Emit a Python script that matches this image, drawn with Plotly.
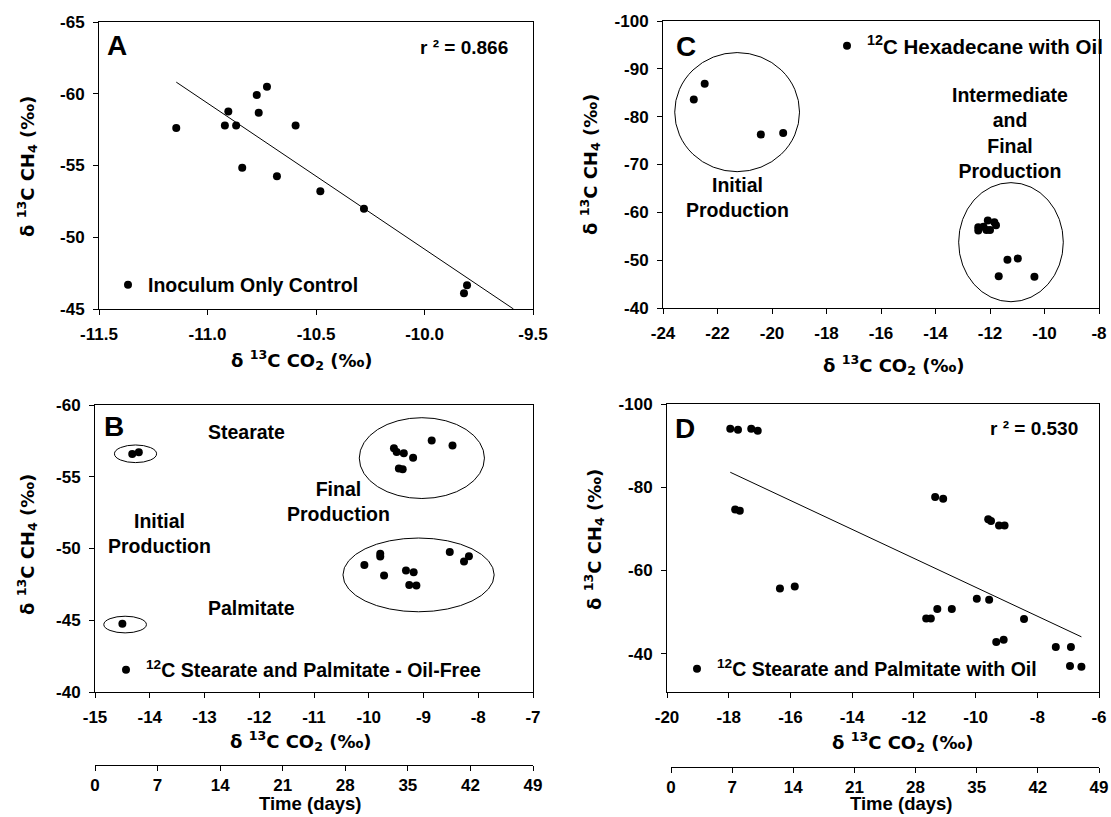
import numpy as np
import plotly.graph_objects as go

W, H = 1111, 817

# ---------------- data ----------------
# Panel A: Inoculum only control
a_co2 = [-11.144, -10.904, -10.920, -10.868, -10.773, -10.726, -10.764, -10.594,
         -10.840, -10.680, -10.480, -10.279, -9.804, -9.818]
a_ch4 = [-57.61, -58.77, -57.78, -57.78, -59.91, -60.49, -58.68, -57.78,
         -54.85, -54.25, -53.20, -51.99, -46.65, -46.09]

# Panel B: 12C stearate and palmitate - oil free
b_co2 = [-14.32, -14.20, -14.50,
         -9.54, -9.49, -9.36, -9.19, -9.45, -9.38, -8.85, -8.47,
         -10.08, -9.79, -9.79, -9.72, -9.32, -9.18, -9.26, -9.13, -8.52, -8.26, -8.17]
b_ch4 = [-56.59, -56.71, -44.75,
         -56.99, -56.73, -56.64, -56.32, -55.57, -55.52, -57.52, -57.17,
         -48.85, -49.64, -49.45, -48.11, -48.46, -48.34, -47.46, -47.42, -49.76, -49.09, -49.46]

# Panel C: 12C hexadecane with oil
c_co2 = [-22.87, -22.47, -20.41, -19.59,
         -12.43, -12.43, -12.08, -12.13, -12.00, -11.84, -11.78, -12.24,
         -11.36, -10.98, -11.68, -10.37]
c_ch4 = [-83.59, -86.86, -76.29, -76.57,
         -56.88, -56.19, -58.28, -56.33, -56.33, -57.93, -57.30, -57.00,
         -50.07, -50.35, -46.66, -46.52]

# Panel D: 12C stearate and palmitate with oil
d_co2 = [-17.95, -17.70, -17.27, -17.06, -17.79, -17.64, -16.34, -15.86,
         -11.31, -11.05, -9.59, -9.50, -9.24, -9.06, -9.96, -9.56,
         -11.24, -10.77, -11.60, -11.45, -8.43, -9.33, -9.09, -7.40, -6.91, -6.94, -6.57]
d_ch4 = [-94.07, -93.83, -94.07, -93.59, -74.68, -74.36, -55.69, -56.17,
         -77.64, -77.24, -72.28, -71.88, -70.83, -70.83, -53.21, -52.96,
         -50.72, -50.72, -48.48, -48.48, -48.32, -42.79, -43.35, -41.59, -41.59, -37.02, -36.86]

# Group ellipses (center x, center y, radius x, radius y) in data units
b_ellipses = [(-14.26, -56.60, 0.385, 0.614),
              (-14.45, -44.70, 0.389, 0.580),
              (-9.03, -56.30, 1.143, 2.816),
              (-9.09, -48.16, 1.381, 2.570)]
c_ellipses = [(-21.28, -80.95, 2.29, 12.45),
              (-11.23, -53.76, 1.92, 12.45)]

# tick labels
a_xticks = [-11.5, -11.0, -10.5, -10.0, -9.5]
a_xtext = ["-11.5", "-11.0", "-10.5", "-10.0", "-9.5"]
a_yticks = [-65, -60, -55, -50, -45]
b_xticks = [-15, -14, -13, -12, -11, -10, -9, -8, -7]
b_yticks = [-60, -55, -50, -45, -40]
c_xticks = [-24, -22, -20, -18, -16, -14, -12, -10, -8]
c_yticks = [-100, -90, -80, -70, -60, -50, -40]
d_xticks = [-20, -18, -16, -14, -12, -10, -8, -6]
d_yticks = [-100, -80, -60, -40]
day_ticks = [0, 7, 14, 21, 28, 35, 42, 49]

r2_a = "r ² = 0.866"
r2_d = "r ² = 0.530"

# ---------------- layout helpers ----------------
FAM = "Liberation Sans, Arial"
TICKFONT = dict(family=FAM, size=17, color="black", weight="bold")
LBLFONT = dict(family=FAM, size=19.5, color="black", weight=700)
TITLEFONT = dict(family="DejaVu Sans", size=18, color="black", weight=700)


def xd(p0, p1):
    return [p0 / W, p1 / W]


def yd(top, bottom):
    return [1 - bottom / H, 1 - top / H]


def lbl(v):
    return ["<b>%s</b>" % ("%g" % t) for t in v]


def axis_common():
    return dict(showline=True, mirror=True, linecolor="black", linewidth=1,
                ticks="outside", ticklen=5, tickwidth=1, tickcolor="black",
                showgrid=False, zeroline=False, tickfont=TICKFONT,
                ticklabelstandoff=5)


fig = go.Figure()
marker = dict(color="black", size=8)

panels = [
    ("x", "y", a_co2, a_ch4, "Inoculum Only Control", "legend"),
    ("x2", "y2", c_co2, c_ch4, "<sup>12</sup>C Hexadecane with Oil", "legend2"),
    ("x3", "y3", b_co2, b_ch4, "<sup>12</sup>C Stearate and Palmitate - Oil-Free", "legend3"),
    ("x4", "y4", d_co2, d_ch4, "<sup>12</sup>C Stearate and Palmitate with Oil", "legend4"),
]
for xa, ya, xs, ys, name, leg in panels:
    fig.add_trace(go.Scatter(x=xs, y=ys, mode="markers", marker=marker, name=name,
                             xaxis=xa, yaxis=ya, legend=leg, showlegend=True))

# regression lines (least squares fit of each panel's points)
ka, ba = np.polyfit(a_co2, a_ch4, 1)
a_line_x = np.array([min(a_co2), (a_yticks[-1] - ba) / ka])  # runs down to the bottom axis
fig.add_trace(go.Scatter(x=a_line_x, y=ka * a_line_x + ba, mode="lines",
                         line=dict(color="black", width=1), xaxis="x", yaxis="y",
                         showlegend=False, hoverinfo="skip"))
kd, bd = np.polyfit(d_co2, d_ch4, 1)
d_line_x = np.array([min(d_co2), max(d_co2)])
fig.add_trace(go.Scatter(x=d_line_x, y=kd * d_line_x + bd, mode="lines",
                         line=dict(color="black", width=1), xaxis="x4", yaxis="y4",
                         showlegend=False, hoverinfo="skip"))

# invisible traces hosting the time axes
fig.add_trace(go.Scatter(x=day_ticks, y=[None] * len(day_ticks), xaxis="x5", yaxis="y3",
                         mode="markers", showlegend=False, hoverinfo="skip"))
fig.add_trace(go.Scatter(x=day_ticks, y=[None] * len(day_ticks), xaxis="x6", yaxis="y4",
                         mode="markers", showlegend=False, hoverinfo="skip"))

time_axis = dict(anchor="free", range=[0, 49], showline=True, linecolor="black", linewidth=1,
                 ticks="outside", ticklen=5, tickcolor="black", showgrid=False, zeroline=False,
                 tickfont=TICKFONT, tickvals=day_ticks, ticktext=lbl(day_ticks),
                 ticklabelstandoff=0)

layout = dict(
    width=W, height=H, margin=dict(l=0, r=0, t=0, b=0, autoexpand=False),
    paper_bgcolor="white", plot_bgcolor="rgba(0,0,0,0)",
    xaxis=dict(axis_common(), domain=xd(99, 533), anchor="y", range=[-11.5, -9.5],
               tickvals=a_xticks, ticktext=["<b>%s</b>" % s for s in a_xtext]),
    yaxis=dict(axis_common(), domain=yd(22, 309), anchor="x", range=[-45, -65],
               tickvals=a_yticks, ticktext=lbl(a_yticks)),
    xaxis2=dict(axis_common(), domain=xd(663, 1099), anchor="y2", range=[-24, -8],
                tickvals=c_xticks, ticktext=lbl(c_xticks)),
    yaxis2=dict(axis_common(), domain=yd(21, 308), anchor="x2", range=[-40, -100],
                tickvals=c_yticks, ticktext=lbl(c_yticks)),
    xaxis3=dict(axis_common(), domain=xd(95, 533), anchor="y3", range=[-15, -7],
                tickvals=b_xticks, ticktext=lbl(b_xticks)),
    yaxis3=dict(axis_common(), domain=yd(405, 692), anchor="x3", range=[-40, -60],
                tickvals=b_yticks, ticktext=lbl(b_yticks)),
    xaxis4=dict(axis_common(), domain=xd(667, 1099), anchor="y4", range=[-20, -6],
                tickvals=d_xticks, ticktext=lbl(d_xticks)),
    yaxis4=dict(axis_common(), domain=yd(404, 692), anchor="x4", range=[-30.8, -100],
                tickvals=d_yticks, ticktext=lbl(d_yticks)),
    xaxis5=dict(time_axis, domain=xd(95, 533), position=1 - 765 / H),
    xaxis6=dict(time_axis, domain=xd(671, 1099), position=1 - 767 / H),
    showlegend=True,
)

# legend positions (anchor px, centre y px, font size, anchor side)
legpos = {"legend": (108, 285, 19.5, "left"), "legend2": (1108, 46, 20.5, "right"),
          "legend3": (106, 670, 19.5, "left"), "legend4": (677, 669, 19.5, "left")}
for k, (px, py, fs, side) in legpos.items():
    layout[k] = dict(x=px / W, y=1 - py / H, xanchor=side, yanchor="middle",
                     bgcolor="rgba(0,0,0,0)", borderwidth=0,
                     font=dict(family=FAM, size=fs, color="black", weight=700),
                     itemclick=False, itemdoubleclick=False)
fig.update_layout(**layout)

# ellipses
shapes = []
for xa, ya, ells in [("x3", "y3", b_ellipses), ("x2", "y2", c_ellipses)]:
    for cx, cy, rx, ry in ells:
        shapes.append(dict(type="circle", xref=xa, yref=ya, x0=cx - rx, x1=cx + rx,
                           y0=cy - ry, y1=cy + ry, line=dict(color="black", width=1)))
fig.update_layout(shapes=shapes)

ann = []


def t(text, x, y, xref, yref, size=19.5, **kw):
    f = dict(LBLFONT)
    f["size"] = size
    d = dict(text=text, x=x, y=y, xref=xref, yref=yref, showarrow=False, font=f)
    d.update(kw)
    ann.append(d)


# panel letters & r2
t("A", -11.415, -63.35, "x", "y", size=28)
t(r2_a, -9.82, -63.2, "x", "y", size=19)
t("C", -23.15, -94.6, "x2", "y2", size=28)
t("B", -14.66, -58.49, "x3", "y3", size=28)
t("D", -19.43, -94.0, "x4", "y4", size=28)
t(r2_d, -8.10, -94.0, "x4", "y4", size=19)

# group labels
t("Initial<br>Production", -21.27, -63.14, "x2", "y2")
t("Intermediate<br>and<br>Final<br>Production", -11.26, -76.5, "x2", "y2")
t("Stearate", -12.24, -58.15, "x3", "y3")
t("Initial<br>Production", -13.83, -51.08, "x3", "y3")
t("Final<br>Production", -10.56, -53.26, "x3", "y3")
t("Palmitate", -12.15, -45.84, "x3", "y3")

# axis titles
xt = "δ <sup>13</sup>C CO<sub>2</sub> (‰)"
yt = "δ <sup>13</sup>C CH<sub>4</sub> (‰)"
for (px, py) in [(302, 360), (894, 365), (301, 741), (903, 742)]:
    ann.append(dict(text=xt, x=px / W, y=1 - py / H, xref="paper", yref="paper",
                    showarrow=False, font=TITLEFONT, xanchor="center", yanchor="middle"))
for (px, py) in [(27, 167), (590, 165), (27, 545), (594, 540)]:
    ann.append(dict(text=yt, x=px / W, y=1 - py / H, xref="paper", yref="paper",
                    showarrow=False, font=TITLEFONT, textangle=-90,
                    xanchor="center", yanchor="middle"))
for (px, py) in [(310, 803), (901, 803)]:
    ann.append(dict(text="Time (days)", x=px / W, y=1 - py / H, xref="paper", yref="paper",
                    showarrow=False, font=dict(LBLFONT, size=18.5), xanchor="center",
                    yanchor="middle"))

fig.update_layout(annotations=ann)
fig.write_html("out.html")
